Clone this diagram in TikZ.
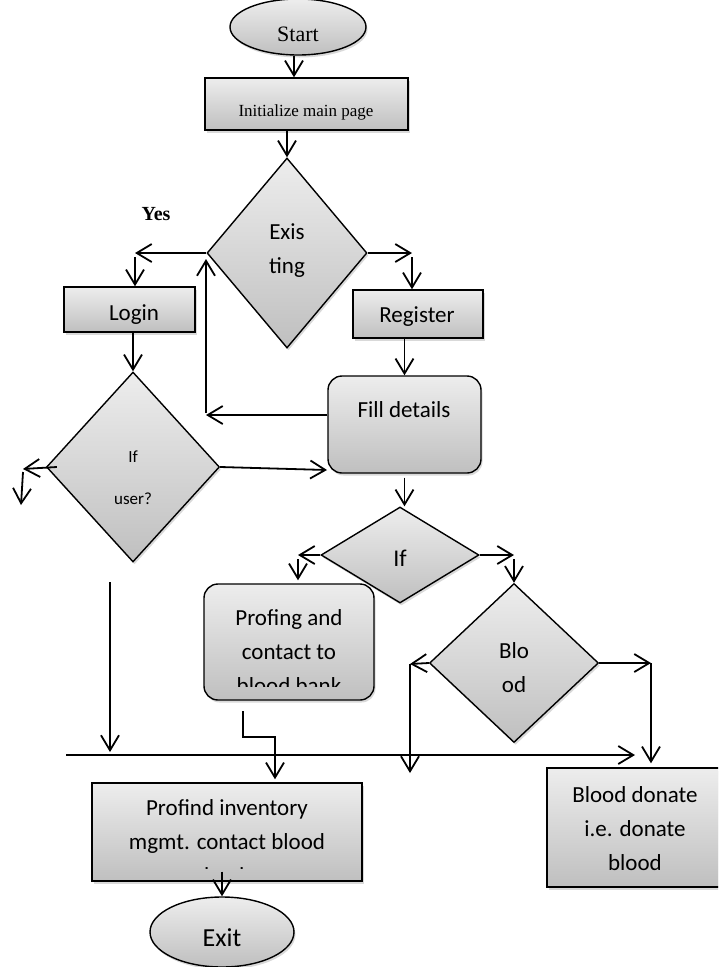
\documentclass[tikz,border=0pt]{standalone}
\usepackage{fontspec}
\setmainfont{Liberation Serif}
\newfontfamily\carl{Carlito}
\usetikzlibrary{arrows.meta,shapes.geometric,shadows}
\begin{document}
\begin{tikzpicture}[x=1pt,y=-1pt,
  gfill/.style={top color=gray!14, bottom color=gray!50, draw=black, line width=1.4pt,
    drop shadow={opacity=0.3,shadow xshift=1.5pt,shadow yshift=-2.5pt}},
  box/.style={gfill, rectangle, inner sep=0pt},
  rbox/.style={box, rounded corners=14pt},
  dia/.style={gfill, diamond, inner sep=0pt},
  oval/.style={gfill, ellipse, inner sep=0pt},
  txt/.style={inner sep=0pt, font=\carl\fontsize{23}{34}\selectfont, align=center},
  arr/.style={line width=1.8pt, -{Straight Barb[length=15pt,width=18pt]}}]
\useasboundingbox (0,0) rectangle (718,967);
\clip (0,0) rectangle (718,967);

% shapes
\node[oval, minimum width=136pt, minimum height=56pt] (start) at (298,27) {};
\node[inner sep=0pt, font=\fontsize{22}{24}\selectfont] (tstart) at (298,34) {Start};

\node[box, minimum width=203pt, minimum height=52pt] (init) at (306.5,104) {};
\node[inner sep=0pt, font=\fontsize{17}{20}\selectfont] (tinit) at (306,112) {Initialize main page};

\node[dia, minimum width=160pt, minimum height=190pt] (exist) at (287,253) {};
\node[txt] (texist) at (287,251) {Exis\\ting};

\node[inner sep=0pt, font=\bfseries\fontsize{20}{24}\selectfont] (yes) at (156,214) {Yes};

\node[box, minimum width=131pt, minimum height=45pt] (login) at (129.5,309.5) {};
\node[txt] (tlogin) at (134,315) {Login};

\node[box, minimum width=130pt, minimum height=48pt] (register) at (418,314) {};
\node[txt] (tregister) at (417,317) {Register};

\node[rbox, minimum width=153pt, minimum height=97pt] (fill) at (404.5,424.5) {};
\node[txt] (tfill) at (404,410) {Fill details};

\node[dia, minimum width=173pt, minimum height=190pt] (ifuser) at (133,467) {};
\node[txt, font=\carl\fontsize{17}{42}\selectfont] (tifuser) at (133,478) {If\\user?};

\node[dia, minimum width=158pt, minimum height=96pt] (if) at (400,555) {};
\node[txt, font=\carl\fontsize{24}{30}\selectfont] (tif) at (400,558) {If};

\node[rbox, minimum width=170pt, minimum height=116pt] (profing) at (289,642) {};
\begin{scope}
  \clip (0,0) rectangle (718,686);
  \node[txt] (tprofing) at (289,652) {Profing and\\contact to\\blood bank};
\end{scope}

\node[dia, minimum width=169pt, minimum height=159pt] (blood) at (514,663) {};
\node[txt] (tblood) at (514,668) {Blo\\od};

\node[box, minimum width=270pt, minimum height=98pt] (profind) at (227,832) {};
\begin{scope}
  \clip (0,0) rectangle (718,868);
  \node[txt] (tprofind) at (227,842) {Profind inventory\\mgmt. contact blood\\bank};
\end{scope}

\node[box, minimum width=174pt, minimum height=119pt] (donate) at (634,827.5) {};
\node[txt] (tdonate) at (635,829) {Blood donate\\i.e. donate\\blood};

\node[oval, minimum width=144pt, minimum height=70pt] (exit) at (222,932) {};
\node[txt, font=\carl\fontsize{26}{30}\selectfont] (texit) at (222,938) {Exit};

% free ends
\coordinate (yesL) at (135,253);
\coordinate (regR) at (412,253);
\coordinate (backL) at (206,415);
\coordinate (backU) at (206,259);
\coordinate (fillIn) at (327,470);
\coordinate (uL) at (23,469);
\coordinate (uD) at (21,505);
\coordinate (ifL) at (298,555);
\coordinate (ifR) at (514,555);
\coordinate (bL) at (410,664);
\coordinate (bLD) at (410,773);
\coordinate (bR) at (651,663);
\coordinate (hS) at (66,755);
\coordinate (hE) at (635,755);
\coordinate (vS) at (110,582);
\coordinate (vE) at (110,752);
\coordinate (pA) at (243,711);
\coordinate (pB) at (275,737);

% connectors
\draw[arr] ([xshift=-4pt]start.south) -- ([xshift=-4pt]start.south |- init.north);
\draw[arr] (exist.north |- init.south) -- (exist.north);
\draw[arr] (exist.west) -- (yesL);
\draw[arr] ([yshift=-4pt]yesL) -- (yesL |- login.north);
\draw[arr] (exist.east) -- (regR);
\draw[arr] ([yshift=-4pt]regR) -- (regR |- register.north);
\draw[arr] (register.south -| fill.north) -- (fill.north);
\draw[arr] (fill.west |- backL) -- (backL);
\draw[arr] ([yshift=2pt]backL) -- (backU);
\draw[arr] (ifuser.north |- login.south) -- (ifuser.north);
\draw[arr] (ifuser.east) -- (fillIn);
\draw[arr] ([xshift=11pt]ifuser.west) -- (uL);
\draw[arr] ([yshift=-3pt]uL) -- (uD);
\draw[arr] ([yshift=-4pt]fill.south) -- (fill.south |- if.north);
\draw[arr] (if.west) -- (ifL);
\draw[arr] ([yshift=-4pt]ifL) -- ([yshift=3pt]ifL |- profing.north);
\draw[arr] (if.east) -- (ifR);
\draw[arr] ([yshift=-4pt]ifR) -- (blood.north);
\draw[arr] (blood.west) -- (bL);
\draw[arr] (bL) -- (bLD);
\draw[arr] (blood.east) -- (bR);
\draw[arr] (bR) -- ([yshift=4pt]bR |- donate.north);
\draw[arr] (hS) -- (hE);
\draw[arr] (vS) -- (vE);
\draw[arr] (pA) |- (pB) -- ([yshift=3pt]pB |- profind.north);
\draw[arr] ([yshift=10pt]profind.south -| exit.north) -- (exit.north);
\end{tikzpicture}
\end{document}
